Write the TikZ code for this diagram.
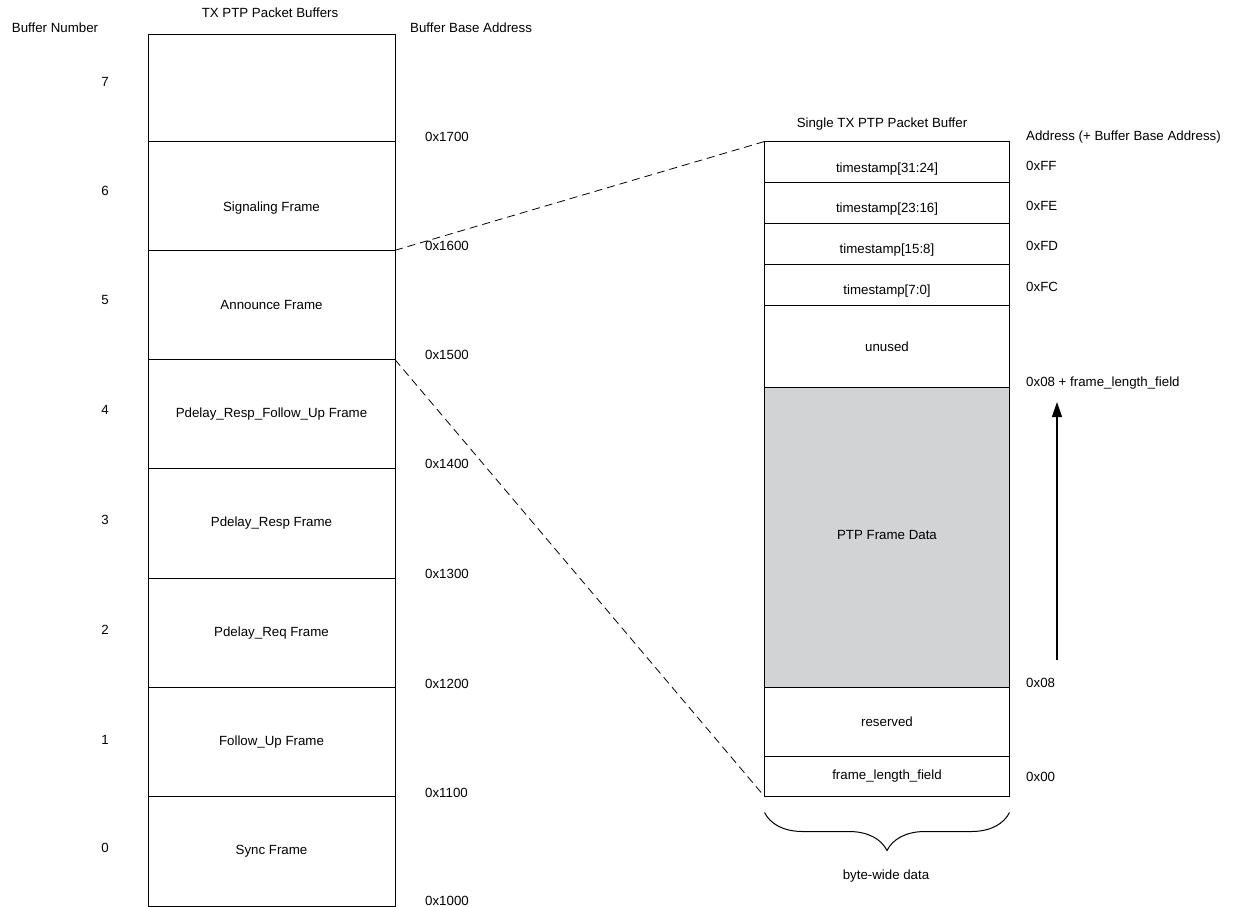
\documentclass[tikz,border=0pt]{standalone}
\usepackage{fontspec}
\setmainfont{Liberation Sans}
\usetikzlibrary{arrows.meta,decorations.pathreplacing}

\tikzset{
  lbl/.style={inner sep=0pt,font=\fontsize{13.3}{15}\selectfont},
  bufrow/.style={draw,line width=1pt,anchor=north west,inner sep=0pt,outer sep=0pt,minimum width=247,font=\fontsize{13.3}{15}\selectfont},
  fldrow/.style={draw,line width=1pt,anchor=north west,inner sep=0pt,outer sep=0pt,minimum width=245,font=\fontsize{13.3}{15}\selectfont},
  zoomline/.style={line width=.8pt,dash pattern=on 8pt off 5pt}
}

\begin{document}
\begin{tikzpicture}[x=1pt,y=-1pt]
\path[use as bounding box] (0,0) rectangle (1237,907);
% left column: the eight buffers
\node[lbl] (bufttl) at (270,13) {TX PTP Packet Buffers};
\node[lbl] (numttl) at (55,28) {Buffer Number};
\node[lbl,anchor=west] (basettl) at (410,28) {Buffer Base Address};
\node[bufrow,minimum height=106] (buf7) at (148,35) {};
\node[bufrow,minimum height=109.3,text height=31pt,text depth=0pt] (buf6) at (148,141) {Signaling Frame};
\node[bufrow,minimum height=109.3] (buf5) at (148,250.3) {Announce Frame};
\node[bufrow,minimum height=109.3] (buf4) at (148,359.6) {Pdelay\_Resp\_Follow\_Up Frame};
\node[bufrow,minimum height=109.3] (buf3) at (148,468.9) {Pdelay\_Resp Frame};
\node[bufrow,minimum height=109.3] (buf2) at (148,578.2) {Pdelay\_Req Frame};
\node[bufrow,minimum height=109.3] (buf1) at (148,687.5) {Follow\_Up Frame};
\node[bufrow,minimum height=109.3] (buf0) at (148,796.8) {Sync Frame};
\node[lbl] (num7) at (105,82) {7};
\node[lbl] (num6) at (105,191) {6};
\node[lbl] (num5) at (105,300) {5};
\node[lbl] (num4) at (105,410) {4};
\node[lbl] (num3) at (105,520) {3};
\node[lbl] (num2) at (105,630) {2};
\node[lbl] (num1) at (105,740) {1};
\node[lbl] (num0) at (105,848) {0};
\node[lbl,anchor=west] (adr7) at (425,137) {0x1700};
\node[lbl,anchor=west] (adr6) at (425,246) {0x1600};
\node[lbl,anchor=west] (adr5) at (425,355) {0x1500};
\node[lbl,anchor=west] (adr4) at (425,464) {0x1400};
\node[lbl,anchor=west] (adr3) at (425,574) {0x1300};
\node[lbl,anchor=west] (adr2) at (425,684) {0x1200};
\node[lbl,anchor=west] (adr1) at (425,793) {0x1100};
\node[lbl,anchor=west] (adr0) at (425,901) {0x1000};
% right column: one buffer in detail
\node[lbl] (onettl) at (882,124) {Single TX PTP Packet Buffer};
\node[lbl,anchor=west] (offttl) at (1026,137) {Address (+ Buffer Base Address)};
\node[fldrow,minimum height=41,text height=20pt,text depth=0pt] (ts3) at (764.5,141.5) {timestamp[31:24]};
\node[fldrow,minimum height=41,text height=19pt,text depth=0pt] (ts2) at (764.5,182.5) {timestamp[23:16]};
\node[fldrow,minimum height=41,text height=18.5pt,text depth=0pt] (ts1) at (764.5,223.5) {timestamp[15:8]};
\node[fldrow,minimum height=41,text height=18.5pt,text depth=0pt] (ts0) at (764.5,264.5) {timestamp[7:0]};
\node[fldrow,minimum height=81.5] (unused) at (764.5,305.5) {unused};
\node[fldrow,minimum height=300.5,text height=4pt,text depth=0pt,fill={rgb,255:red,209;green,211;blue,212}] (data) at (764.5,387) {PTP Frame Data};
\node[fldrow,minimum height=68.5] (rsvd) at (764.5,687.5) {reserved};
\node[fldrow,minimum height=40.5] (flf) at (764.5,756) {frame\_length\_field};
\node[lbl,anchor=west] (offff) at (1026,166) {0xFF};
\node[lbl,anchor=west] (offfe) at (1026,206) {0xFE};
\node[lbl,anchor=west] (offfd) at (1026,246) {0xFD};
\node[lbl,anchor=west] (offfc) at (1026,287) {0xFC};
\node[lbl,anchor=west] (offend) at (1026,383) {0x08 + frame\_length\_field};
\node[lbl,anchor=west] (off08) at (1026,683) {0x08};
\node[lbl,anchor=west] (off00) at (1026,777) {0x00};
% zoom lines
\draw[zoomline] (buf6.south east) -- (ts3.north west);
\draw[zoomline] (buf5.south east) -- (flf.south west);
% growth arrow
\coordinate (arrlo) at (1057,660);
\coordinate (arrhi) at (1057,402);
\draw[line width=1.2pt,-{Triangle[length=15pt,width=10pt]}] (arrlo) -- (arrhi);
% brace under the buffer
\draw[line width=1pt,decorate,decoration={brace,amplitude=38pt}] (flf.south east) ++(0,16) coordinate (brr) -- (brr -| flf.south west) coordinate (brl);
\node[lbl] (width) at (886,876) {byte-wide data};
\end{tikzpicture}
\end{document}
